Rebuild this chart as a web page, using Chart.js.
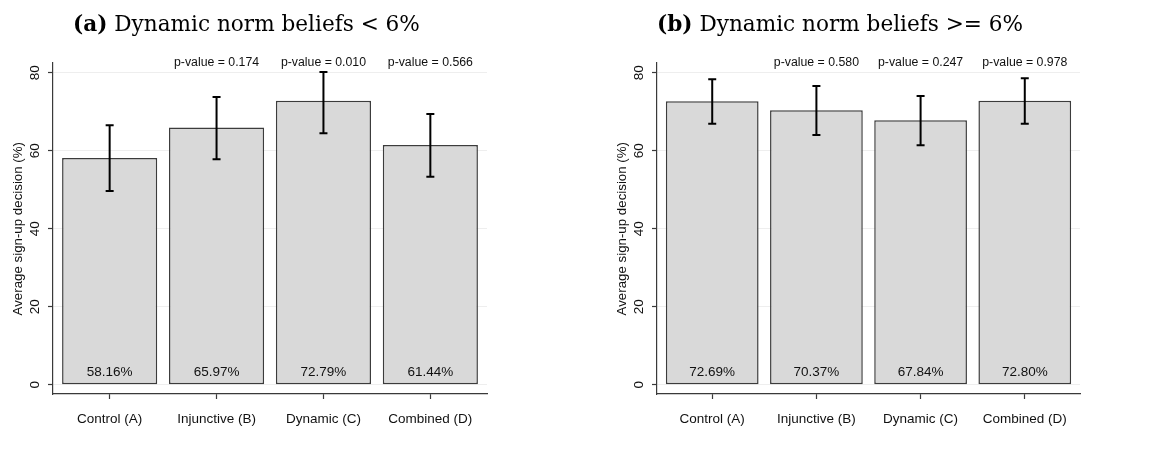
<!DOCTYPE html>
<html>
<head>
<meta charset="utf-8">
<script src="https://cdn.jsdelivr.net/npm/chart.js@4.4.1/dist/chart.umd.min.js"></script>
<style>
  html, body { margin: 0; padding: 0; background: #fff; }
  #wrap { position: relative; width: 1155px; height: 466px; overflow: hidden; }
  .panel { position: absolute; top: 0; height: 466px; }
  .title { position: absolute; font-family: "DejaVu Serif", serif; font-size: 21.6px; line-height: 21.6px; color: #000; white-space: nowrap; }
</style>
</head>
<body>
<div id="wrap">
  <div class="panel" style="left:0;width:577px"><canvas id="chartA"></canvas></div>
  <div class="panel" style="left:577px;width:578px"><canvas id="chartB"></canvas></div>
  <div class="title" style="left:73px;top:13px"><b>(a)</b> Dynamic norm beliefs &lt; 6%</div>
  <div class="title" style="left:657px;top:13px"><b>(b)</b> Dynamic norm beliefs &gt;= 6%</div>
</div>
<script>
// Treatment groups and y-axis ticks shared by both panels
const categories = ['Control (A)', 'Injunctive (B)', 'Dynamic (C)', 'Combined (D)'];
const yTickValues = [0, 20, 40, 60, 80];
const yTitle = 'Average sign-up decision (%)';

// Panel (a): dynamic norm beliefs < 6%
const meansA = [58.16, 65.97, 72.79, 61.44];
const ciLowA = [49.7, 57.8, 64.5, 53.3];
const ciHighA = [66.5, 73.8, 80.2, 69.4];
const pValuesA = [null, '0.174', '0.010', '0.566'];

// Panel (b): dynamic norm beliefs >= 6%
const meansB = [72.69, 70.37, 67.84, 72.80];
const ciLowB = [66.9, 64.0, 61.4, 66.9];
const ciHighB = [78.3, 76.6, 74.0, 78.6];
const pValuesB = [null, '0.580', '0.247', '0.978'];

const SANS = '"Liberation Sans", Arial, sans-serif';
const AXIS = '#3a3a3a';
const TEXT = '#111111';

// Error bars, value labels, p-values, rotated y tick labels and y title
const annotate = {
  id: 'annotate',
  afterDatasetsDraw(chart, args, opts) {
    const { ctx, chartArea } = chart;
    const xs = chart.scales.x, ys = chart.scales.y;
    ctx.save();
    // confidence intervals
    ctx.strokeStyle = '#000';
    ctx.lineWidth = 2;
    opts.means.forEach((m, i) => {
      const x = xs.getPixelForValue(i);
      const yl = ys.getPixelForValue(opts.lo[i]);
      const yh = ys.getPixelForValue(opts.hi[i]);
      ctx.beginPath();
      ctx.moveTo(x, yl); ctx.lineTo(x, yh);
      ctx.moveTo(x - 4, yl); ctx.lineTo(x + 4, yl);
      ctx.moveTo(x - 4, yh); ctx.lineTo(x + 4, yh);
      ctx.stroke();
    });
    // mean labels at the foot of each bar
    ctx.fillStyle = TEXT;
    ctx.textAlign = 'center';
    ctx.textBaseline = 'alphabetic';
    ctx.font = '13.5px ' + SANS;
    const y0 = ys.getPixelForValue(0);
    opts.means.forEach((m, i) => {
      ctx.fillText(m.toFixed(2) + '%', xs.getPixelForValue(i), y0 - 9);
    });
    // p-values versus control
    ctx.font = '12.3px ' + SANS;
    opts.pvals.forEach((p, i) => {
      if (p === null) return;
      ctx.fillText('p-value = ' + p, xs.getPixelForValue(i), chartArea.top + 3);
    });
    // rotated y tick labels
    ctx.font = '13.5px ' + SANS;
    ctx.textBaseline = 'middle';
    ys.ticks.forEach(t => {
      ctx.save();
      ctx.translate(chartArea.left - 18, ys.getPixelForValue(t.value));
      ctx.rotate(-Math.PI / 2);
      ctx.fillText(String(t.value), 0, 0);
      ctx.restore();
    });
    // y axis title
    ctx.save();
    ctx.translate(chartArea.left - 35, (ys.getPixelForValue(80) + ys.getPixelForValue(0)) / 2);
    ctx.rotate(-Math.PI / 2);
    ctx.font = '13.3px ' + SANS;
    ctx.fillText(yTitle, 0, 0);
    ctx.restore();
    ctx.restore();
  }
};

function makeChart(id, means, lo, hi, pvals, yWidth, padRight) {
  return new Chart(document.getElementById(id), {
    type: 'bar',
    data: {
      datasets: [{
        data: means.map((v, i) => ({ x: i, y: v })),
        backgroundColor: '#d9d9d9',
        borderColor: '#3c3c3c',
        borderWidth: 1.5,
        borderSkipped: false,
        barPercentage: 0.89,
        categoryPercentage: 1
      }]
    },
    plugins: [annotate],
    options: {
      responsive: true,
      maintainAspectRatio: false,
      animation: false,
      layout: { padding: { top: 63, right: padRight, bottom: 0, left: 0 } },
      plugins: {
        legend: { display: false },
        tooltip: { enabled: false },
        annotate: { means, lo, hi, pvals }
      },
      scales: {
        x: {
          type: 'linear',
          offset: false,
          min: -0.53,
          max: 3.53,
          afterBuildTicks: s => { s.ticks = categories.map((c, i) => ({ value: i })); },
          afterFit: s => { s.height = 72; },
          grid: { offset: false, drawOnChartArea: false, tickLength: 5, tickColor: AXIS, tickWidth: 1.2 },
          border: { color: AXIS, width: 1.2 },
          ticks: {
            autoSkip: false, maxRotation: 0, minRotation: 0, padding: 12,
            color: TEXT, font: { family: SANS, size: 13.5 },
            callback: v => categories[v]
          }
        },
        y: {
          min: -2.38,
          max: 82.49,
          afterBuildTicks: s => { s.ticks = yTickValues.map(v => ({ value: v })); },
          afterFit: s => { s.width = yWidth; },
          grid: { color: '#eeeeee', lineWidth: 1, tickLength: 5, tickColor: AXIS, tickWidth: 1.2 },
          border: { color: AXIS, width: 1.2 },
          ticks: { display: false }
        }
      }
    }
  });
}

makeChart('chartA', meansA, ciLowA, ciHighA, pValuesA, 53, 90);
makeChart('chartB', meansB, ciLowB, ciHighB, pValuesB, 80, 75);
</script>
</body>
</html>
